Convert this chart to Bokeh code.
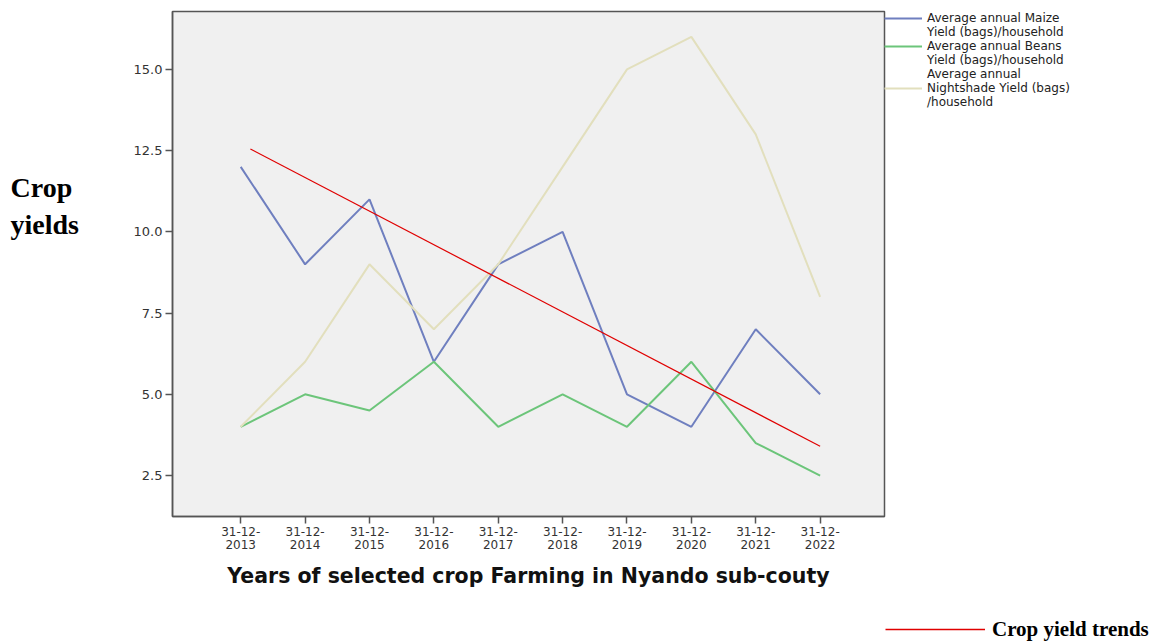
from bokeh.plotting import figure
from bokeh.layouts import row, column
from bokeh.models import (FixedTicker, NumeralTickFormatter, Legend, LegendItem,
                          Label, Range1d, ColumnDataSource)
from bokeh.embed import file_html
from bokeh.resources import INLINE

years = [2013, 2014, 2015, 2016, 2017, 2018, 2019, 2020, 2021, 2022]
year_labels = ["31-12-\n%d" % y for y in years]
maize = [12, 9, 11, 6, 9, 10, 5, 4, 7, 5]
beans = [4, 5, 4.5, 6, 4, 5, 4, 6, 3.5, 2.5]
nightshade = [4, 6, 9, 7, 9, 12, 15, 16, 13, 8]
trend_x = [2013.15, 2022.0]
trend_y = [12.55, 3.4]
y_ticks = [2.5, 5.0, 7.5, 10.0, 12.5, 15.0]

TREND_RED = "#e00000"

# ---- main chart ----
p = figure(frame_width=712, frame_height=505, output_backend="svg",
           toolbar_location=None,
           x_range=Range1d(2011.94, 2023.0), y_range=Range1d(1.24, 16.78),
           min_border_left=47, min_border_right=0, min_border_top=11,
           min_border_bottom=84)
p.background_fill_color = "#f0f0f0"
p.border_fill_color = "white"
p.outline_line_color = "#555555"
p.outline_line_width = 1.5
p.xgrid.visible = False
p.ygrid.visible = False

src = ColumnDataSource(dict(x=years, maize=maize, beans=beans, night=nightshade))
r1 = p.line("x", "maize", source=src, line_color="#6f7fbf", line_width=2)
r2 = p.line("x", "beans", source=src, line_color="#6cc57a", line_width=2)
r3 = p.line("x", "night", source=src, line_color="#e2dfbd", line_width=2)
rt = p.line(trend_x, trend_y, line_color=TREND_RED, line_width=1.2)
blank = p.line("x", "maize", source=src, line_alpha=0)

for ax in (p.xaxis[0], p.yaxis[0]):
    ax.axis_line_color = "#555555"
    ax.axis_line_width = 1.5
    ax.major_tick_line_color = "#555555"
    ax.major_tick_line_width = 1.5
    ax.major_tick_out = 7
    ax.major_tick_in = 0
    ax.minor_tick_line_color = None
    ax.major_label_text_font = "DejaVu Sans"
    ax.major_label_text_color = "#333333"

p.xaxis.ticker = FixedTicker(ticks=years)
p.xaxis.major_label_overrides = {y: l for y, l in zip(years, year_labels)}
p.xaxis.major_label_text_font_size = "12px"
p.xaxis.major_label_text_line_height = 0.95
p.xaxis.major_label_standoff = 1
p.xaxis.axis_label = "Years of selected crop Farming in Nyando sub-couty"
p.xaxis.axis_label_text_font = "DejaVu Sans"
p.xaxis.axis_label_text_font_style = "bold"
p.xaxis.axis_label_text_font_size = "20.5px"
p.xaxis.axis_label_text_color = "#111111"
p.xaxis.axis_label_standoff = 9

p.yaxis.ticker = FixedTicker(ticks=y_ticks)
p.yaxis.formatter = NumeralTickFormatter(format="0.0")
p.yaxis.major_label_text_font_size = "13px"
p.yaxis.major_label_standoff = 3

legend = Legend(items=[
    LegendItem(label="Average annual Maize", renderers=[r1]),
    LegendItem(label="Yield (bags)/household", renderers=[blank]),
    LegendItem(label="Average annual Beans", renderers=[r2]),
    LegendItem(label="Yield (bags)/household", renderers=[blank]),
    LegendItem(label="Average annual", renderers=[blank]),
    LegendItem(label="Nightshade Yield (bags)", renderers=[r3]),
    LegendItem(label="/household", renderers=[blank]),
], location="top_left", border_line_color=None, background_fill_alpha=0,
    margin=0, padding=3, spacing=0, glyph_width=38, glyph_height=12,
    label_height=12, label_standoff=5,
    label_text_font="DejaVu Sans", label_text_font_size="12px",
    label_text_color="#222222")
p.add_layout(legend, "right")

# ---- left strip with the "Crop yields" title ----
left = figure(width=125, height=600, output_backend="svg", toolbar_location=None,
              x_range=Range1d(0, 1), y_range=Range1d(0, 1),
              x_axis_location=None, y_axis_location=None, min_border=0)
left.outline_line_color = None
left.xgrid.visible = False
left.ygrid.visible = False
left.add_layout(Label(x=10, y=276, x_units="screen", y_units="screen",
                      text="Crop\nyields", text_font="Liberation Serif",
                      text_font_style="bold", text_font_size="28px",
                      text_color="black", text_line_height=1.2))

# ---- bottom strip with the trend key ----
bottom = figure(width=1152, height=42, output_backend="svg", toolbar_location=None,
                x_range=Range1d(0, 1), y_range=Range1d(0, 1),
                x_axis_location=None, y_axis_location=None, min_border=0,
                min_border_left=885)
bottom.outline_line_color = None
bottom.xgrid.visible = False
bottom.ygrid.visible = False
rt2 = bottom.line(trend_x, trend_y, line_color=TREND_RED, line_width=1.6)
trend_leg = Legend(items=[LegendItem(label="Crop yield trends", renderers=[rt2])],
                   location="bottom_left", border_line_color=None,
                   background_fill_alpha=0, margin=0, padding=0,
                   glyph_width=100, glyph_height=26, label_height=26,
                   label_standoff=7,
                   label_text_font="Liberation Serif", label_text_font_style="bold",
                   label_text_font_size="21px", label_text_color="black")
bottom.add_layout(trend_leg, "center")

layout = column(row(left, p), bottom)
open("out.html", "w").write(file_html(layout, INLINE))
